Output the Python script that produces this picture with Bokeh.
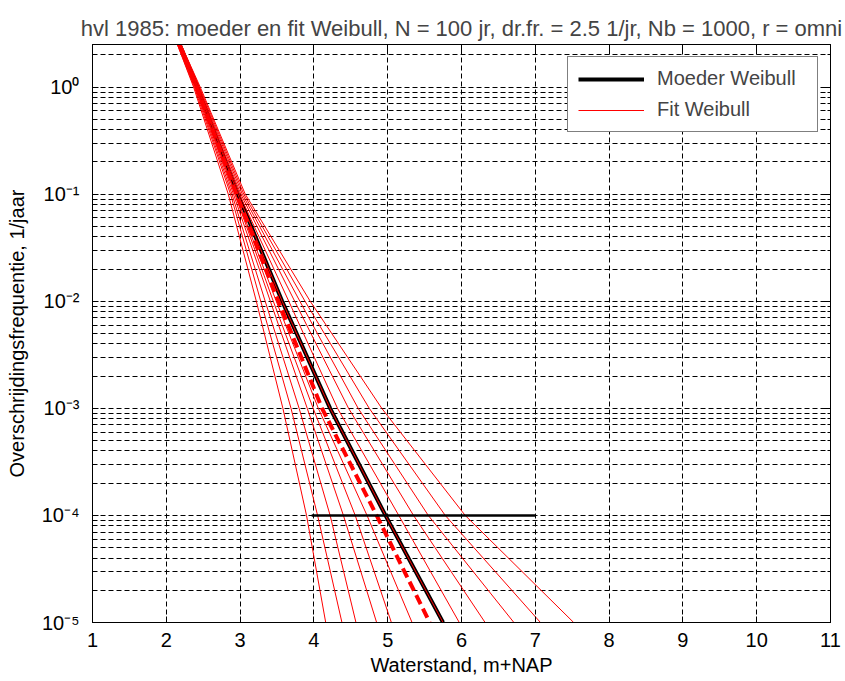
from bokeh.plotting import figure
from bokeh.models import (FixedTicker, CustomJSTickFormatter, LinearAxis, LogAxis,
                          Legend, LegendItem, Range1d)
from bokeh.embed import file_html
from bokeh.resources import INLINE

# ---------------- data ----------------
freq_levels = [2.5, 1.0, 1e-1, 1e-2, 1e-3, 1e-4, 1e-5]   # 1/jaar

moeder_x = [2.18, 2.42, 2.97, 3.57, 4.22, 4.97, 5.75]     # Moeder Weibull
gemiddeld_x = [2.18, 2.41, 2.95, 3.52, 4.11, 4.85, 5.57]  # thick dashed red

fit_1 = [2.15, 2.37, 2.84, 3.22, 3.58, 3.90, 4.16]
fit_2 = [2.15, 2.38, 2.87, 3.28, 3.69, 4.05, 4.38]
fit_3 = [2.16, 2.39, 2.89, 3.34, 3.80, 4.22, 4.57]
fit_4 = [2.16, 2.40, 2.91, 3.41, 3.91, 4.40, 4.85]
fit_5 = [2.17, 2.40, 2.93, 3.45, 3.99, 4.56, 5.05]
fit_6 = [2.17, 2.41, 2.94, 3.49, 4.06, 4.72, 5.33]
fit_7 = [2.18, 2.42, 2.97, 3.57, 4.22, 4.97, 5.75]
fit_8 = [2.18, 2.42, 2.99, 3.66, 4.32, 5.15, 5.97]
fit_9 = [2.19, 2.43, 3.01, 3.74, 4.47, 5.35, 6.32]
fit_10 = [2.19, 2.44, 3.03, 3.81, 4.60, 5.55, 6.71]
fit_11 = [2.20, 2.45, 3.05, 3.88, 4.75, 5.78, 7.07]
fit_12 = [2.20, 2.46, 3.07, 3.95, 4.92, 6.05, 7.52]
fits = [fit_1, fit_2, fit_3, fit_4, fit_5, fit_6, fit_7, fit_8, fit_9, fit_10, fit_11, fit_12]

hline_x = [3.97, 7.0]
hline_y = [1e-4, 1e-4]

x_ticks = [1, 2, 3, 4, 5, 6, 7, 8, 9, 10, 11]
y_ticks = [1e-5, 1e-4, 1e-3, 1e-2, 1e-1, 1e0]
y_minor = [m * 10.0 ** e for e in range(-5, 1) for m in range(2, 10)]

title_text = "hvl 1985: moeder en fit Weibull, N = 100 jr, dr.fr. = 2.5 1/jr, Nb = 1000, r = omni"
FONT = "Liberation Sans"

# ---------------- figure ----------------
p = figure(width=845, height=681, y_axis_type="log",
           x_range=Range1d(1, 11), y_range=Range1d(1e-5, 2.5),
           output_backend="svg", toolbar_location=None,
           min_border_left=92, min_border_right=15,
           min_border_top=44, min_border_bottom=59)
p.background_fill_color = "white"
p.border_fill_color = "white"
p.outline_line_color = "black"
p.outline_line_width = 1

p.title.text = title_text
p.title.text_font = FONT
p.title.text_font_size = "22px"
p.title.text_font_style = "normal"
p.title.align = "center"
p.title.vertical_align = "top"
p.title.standoff = 4

xt = FixedTicker(ticks=x_ticks)
yt = FixedTicker(ticks=y_ticks, minor_ticks=y_minor)

ylabel_fmt = CustomJSTickFormatter(code=r"""
const sup = {"0":"\u2070","1":"\u00b9","2":"\u00b2","3":"\u00b3","4":"\u2074",
             "5":"\u2075","6":"\u2076","7":"\u2077","8":"\u2078","9":"\u2079","-":"\u207b"};
const e = Math.round(Math.log10(tick));
return "10" + String(e).split("").map(c => sup[c]).join("");
""")
empty_fmt = CustomJSTickFormatter(code="return '';")

xa = p.xaxis[0]
xa.ticker = xt
xa.axis_label = "Waterstand, m+NAP"
ya = p.yaxis[0]
ya.ticker = yt
ya.formatter = ylabel_fmt
ya.axis_label = "Overschrijdingsfrequentie, 1/jaar"

for ax in (xa, ya):
    ax.major_label_text_font = FONT
    ax.major_label_text_font_size = "20px"
    ax.axis_label_text_font = FONT
    ax.axis_label_text_font_size = "20px"
    ax.axis_label_text_font_style = "normal"
    ax.major_tick_in = 6
    ax.major_tick_out = 0
    ax.minor_tick_in = 3
    ax.minor_tick_out = 0
    ax.axis_line_color = "black"
    ax.major_tick_line_color = "black"
    ax.major_label_text_color = "black"
    ax.axis_label_text_color = "black"
xa.minor_tick_line_color = None
xa.major_label_standoff = 10
xa.axis_label_standoff = 4
ya.major_label_standoff = 13
ya.axis_label_standoff = 11

top_ax = LinearAxis(ticker=xt, formatter=empty_fmt, major_tick_in=6, major_tick_out=0,
                    minor_tick_line_color=None, major_label_standoff=0)
right_ax = LogAxis(ticker=yt, formatter=empty_fmt, major_tick_in=6, major_tick_out=0,
                   minor_tick_in=3, minor_tick_out=0, major_label_standoff=0)
p.add_layout(top_ax, "above")
p.add_layout(right_ax, "right")

# grid: black dashed, major + minor on y
p.xgrid.ticker = xt
p.ygrid.ticker = yt
for g in (p.xgrid[0], p.ygrid[0]):
    g.grid_line_color = "black"
    g.grid_line_dash = "5 3"
    g.grid_line_width = 1
p.ygrid.minor_grid_line_color = "black"
p.ygrid.minor_grid_line_dash = "5 3"

# ---------------- lines ----------------
r_moeder = p.line(moeder_x, freq_levels, line_color="black", line_width=4)
fit_renderers = []
for fx in fits:
    fit_renderers.append(p.line(fx, freq_levels, line_color="red", line_width=1))
p.line(gemiddeld_x, freq_levels, line_color="red", line_width=4, line_dash="10 5")
p.line(hline_x, hline_y, line_color="black", line_width=2.5)

legend = Legend(items=[LegendItem(label="Moeder Weibull", renderers=[r_moeder]),
                       LegendItem(label="Fit Weibull", renderers=[fit_renderers[0]])],
                location="top_right", margin=12, padding=10, spacing=8,
                glyph_width=66, glyph_height=22, label_height=22, label_width=150,
                label_standoff=13, border_line_color="black", border_line_width=1,
                background_fill_color="white", background_fill_alpha=1.0,
                label_text_font=FONT, label_text_font_size="20px")
p.add_layout(legend)

open("out.html", "w").write(file_html(p, INLINE))
